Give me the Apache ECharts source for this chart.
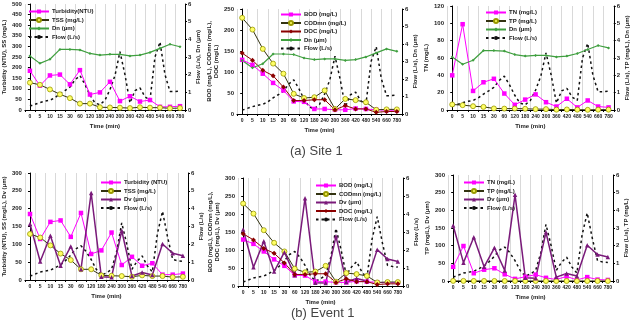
<!DOCTYPE html>
<html><head><meta charset="utf-8">
<script src="https://cdn.jsdelivr.net/npm/echarts@6/dist/echarts.min.js"></script>
<style>html,body{margin:0;padding:0;background:#fff}#c{width:631px;height:320px}</style>
</head><body><div id="c"></div>
<script>
const times = ['0','5','10','15','30','60','120','180','240','300','360','420','480','540','660','780'];
const turbidity = [185,115,163,167,121,188,73,83,133,42,65,40,47,15,15,18];
const tss = [129,119,97,74,56,30,30,13,12,11,9,13,11,11,8,9];
const dn = [3.06,2.64,2.87,3.43,3.43,3.40,3.20,3.11,3.15,3.15,3.06,3.11,3.26,3.49,3.72,3.58];
const bod = [129,117,96,74,56,30,29,12,12,10,10,13,12,10,9,9];
const codmn = [229,201,155,120,96,48,38,40,56,12,36,33,28,10,11,11];
const doc = [145,128,104,91,64,32,32,34,34,10,20,12,12,4,6,6];
const tn = [40,99,22,32,36,19,6,12,18,9,4,13,3,11,4,3];
const tp = [0.32,0.28,0.22,0.18,0.09,0.08,0.08,0.07,0.05,0.05,0.02,0.03,0.02,0.01,0.02,0.02];
const dv = [157,52,124,40,94,30,244,9,8,138,11,21,14,101,75,68];
// flow sampled at half-category positions
const flowIndex = [0,0.5,1,1.5,2,2.5,3,3.5,4,4.5,5,5.5,6,6.5,7,7.5,8,8.5,9,9.5,10,10.5,11,11.5,12,12.5,13,13.5,14,14.5,15];
const flowSite = [0.22,0.32,0.42,0.5,0.55,0.7,0.92,1.1,1.3,1.7,1.95,1.45,0.85,0.4,0.3,0.55,1.15,1.95,3.3,2.0,0.4,1.1,1.25,0.75,0.55,3.0,3.85,2.0,1.05,1.05,1.08];
const flowEvent = [0.22,0.33,0.45,0.5,0.55,0.7,0.85,1.1,1.4,1.75,1.92,1.6,1.15,0.6,0.27,0.4,0.6,1.6,3.2,2.0,0.6,1.05,1.35,0.8,0.45,2.6,3.85,2.4,1.15,1.08,1.05];

const FF = 'Liberation Sans';
const FN = '"Liberation Sans Narrow", "Liberation Sans", sans-serif';
const grids = [
  {left:18, top:4, width:167, height:106},
  {left:237, top:9, width:165, height:105},
  {left:447, top:6, width:170, height:104},
  {left:22, top:173, width:166, height:107},
  {left:238, top:178, width:165, height:108},
  {left:448, top:175, width:165, height:106}
];
const leftAxes = [
  {max:500, interval:50, name:'Turbidity (NTU), SS (mg/L)'},
  {max:250, interval:50, name:'BOD (mg/L), CODmn (mg/L),\nDOC (mg/L)'},
  {max:120, interval:20, name:'TN (mg/L)'},
  {max:300, interval:50, name:'Turbidity (NTU), SS (mg/L), Dv (\u03bcm)'},
  {max:300, interval:50, name:'BOD (mg/L), CODmn (mg/L),\nDOC (mg/L), Dv (\u03bcm)'},
  {max:300, interval:50, name:'TP (mg/L), Dv (\u03bcm)'}
];
const rightNames = ['Flow (L/s), Dn (\u03bcm)','Flow (L/s), Dn (\u03bcm)','Flow (L/s), TP (mg/L), Dn (\u03bcm)','Flow (L/s)','Flow (L/s)','Flow (L/s), TP (mg/L)'];

const lbl = {fontSize:6, fontWeight:'bold', fontFamily:FF, color:'#222'};
const xlbl = {fontSize:5, fontWeight:'bold', fontFamily:FN, color:'#222'};
const axLine = {show:true, lineStyle:{color:'#000', width:1}};
const xAxes = [], yAxes = [];
grids.forEach((g,i)=>{
  xAxes.push({type:'category', gridIndex:i, data:times, boundaryGap:true,
    axisLine:axLine, axisTick:{show:true, length:2, interval:0, lineStyle:{color:'#000'}},
    axisLabel:Object.assign({interval:0, margin:4}, xlbl),
    splitLine:{show:true, interval:0, lineStyle:{color:'#cfcfcf', width:0.8}},
    name:'Time (min)', nameLocation:'middle', nameGap:13, nameTextStyle:lbl});
  xAxes.push({type:'value', gridIndex:i, min:-0.5, max:15.5, show:false});
  const L = leftAxes[i];
  yAxes.push({type:'value', gridIndex:i, position:'left', min:0, max:L.max, interval:L.interval,
    axisLine:axLine, axisTick:{show:true, length:2, lineStyle:{color:'#000'}},
    axisLabel:Object.assign({margin:3}, lbl), splitLine:{show:false},
    name:L.name, nameLocation:'middle', nameRotate:90, nameGap:12,
    nameTextStyle:Object.assign({lineHeight:7}, lbl)});
  yAxes.push({type:'value', gridIndex:i, position:'right', min:0, max:6, interval:1,
    axisLine:axLine, axisTick:{show:true, length:2, lineStyle:{color:'#000'}},
    axisLabel:Object.assign({margin:3}, lbl), splitLine:{show:false},
    name:rightNames[i], nameLocation:'middle', nameRotate:90, nameGap:10, nameTextStyle:lbl});
});

const styles = {
  mag:{symbol:'rect', symbolSize:4.5, itemStyle:{color:'#FF00FF'}, lineStyle:{color:'#FF00FF', width:1}},
  yel:{symbol:'circle', symbolSize:5, itemStyle:{color:'#FFFF66', borderColor:'#9a9a00', borderWidth:0.8}, lineStyle:{color:'#333311', width:1}},
  grn:{symbol:'diamond', symbolSize:3, itemStyle:{color:'#3f9f3f'}, lineStyle:{color:'#3f9f3f', width:1.2}},
  red:{symbol:'diamond', symbolSize:5, itemStyle:{color:'#8B0000'}, lineStyle:{color:'#8B0000', width:1}},
  pur:{symbol:'triangle', symbolSize:4.5, itemStyle:{color:'#7a1a7a'}, lineStyle:{color:'#7a1a7a', width:1.5}}
};
function ser(name, data, g, right, st){
  return Object.assign({type:'line', name, data, xAxisIndex:2*g, yAxisIndex:2*g+(right?1:0), z:3}, JSON.parse(JSON.stringify(styles[st])));
}
function flow(g, vals){
  return {type:'line', name:'Flow (L/s)', data:flowIndex.map((x,k)=>[x, vals[k]]), xAxisIndex:2*g+1, yAxisIndex:2*g+1,
    symbol:'none', z:2, lineStyle:{color:'#111', width:1.5, type:[2.5,3]}, itemStyle:{color:'#111'}};
}
const series = [
  ser('Turbidity(NTU)', turbidity, 0, false, 'mag'),
  ser('TSS (mg/L)', tss, 0, false, 'yel'),
  ser('Dn (\u03bcm)', dn, 0, true, 'grn'),
  flow(0, flowSite),
  ser('BOD (mg/L)', bod, 1, false, 'mag'),
  ser('CODmn (mg/L)', codmn, 1, false, 'yel'),
  ser('DOC (mg/L)', doc, 1, false, 'red'),
  ser('Dn (\u03bcm)', dn, 1, true, 'grn'),
  flow(1, flowSite),
  ser('TN (mg/L)', tn, 2, false, 'mag'),
  ser('TP (mg/L)', tp, 2, true, 'yel'),
  ser('Dn (\u03bcm)', dn, 2, true, 'grn'),
  flow(2, flowSite),
  ser('Turbidity (NTU)', turbidity, 3, false, 'mag'),
  ser('TSS (mg/L)', tss, 3, false, 'yel'),
  ser('Dv (\u03bcm)', dv, 3, false, 'pur'),
  flow(3, flowEvent),
  ser('BOD (mg/L)', bod, 4, false, 'mag'),
  ser('CODmn (mg/L)', codmn, 4, false, 'yel'),
  ser('Dv (\u03bcm)', dv, 4, false, 'pur'),
  ser('DOC (mg/L)', doc, 4, false, 'red'),
  flow(4, flowEvent),
  ser('TN (mg/L)', tn, 5, false, 'mag'),
  ser('TP (mg/L)', tp, 5, false, 'yel'),
  ser('Dv (\u03bcm)', dv, 5, false, 'pur'),
  flow(5, flowEvent)
];
function leg(left, top, names){
  return {left, top, orient:'vertical', itemWidth:20, itemHeight:5, itemGap:1.5, padding:0, selectedMode:false,
    textStyle:{fontSize:6, fontWeight:'bold', fontFamily:FF, color:'#222', lineHeight:7, padding:[0,0,0,-2]}, data:names};
}
const legends = [
  leg(28, 8, ['Turbidity(NTU)','TSS (mg/L)','Dn (\u03bcm)','Flow (L/s)']),
  leg(280, 11, ['BOD (mg/L)','CODmn (mg/L)','DOC (mg/L)','Dn (\u03bcm)','Flow (L/s)']),
  leg(485, 9, ['TN (mg/L)','TP (mg/L)','Dn (\u03bcm)','Flow (L/s)']),
  leg(100, 179, ['Turbidity (NTU)','TSS (mg/L)','Dv (\u03bcm)','Flow (L/s)']),
  leg(315, 182, ['BOD (mg/L)','CODmn (mg/L)','Dv (\u03bcm)','DOC (mg/L)','Flow (L/s)']),
  leg(463, 179, ['TN (mg/L)','TP (mg/L)','Dv (\u03bcm)','Flow (L/s)'])
];
const chart = echarts.init(document.getElementById('c'), null, {renderer:'canvas'});
chart.setOption({
  animation:false,
  backgroundColor:'#fff',
  grid:grids, xAxis:xAxes, yAxis:yAxes, legend:legends, series,
  graphic:[
    {type:'text', left:290, top:145, style:{text:'(a) Site 1', fontSize:13, fontFamily:FF, fill:'#444'}},
    {type:'text', left:291, top:307, style:{text:'(b) Event 1', fontSize:13, fontFamily:FF, fill:'#444'}}
  ]
});
</script></body></html>
